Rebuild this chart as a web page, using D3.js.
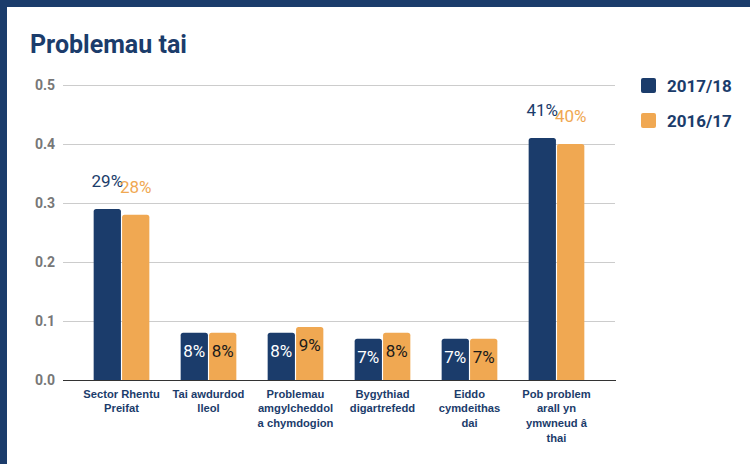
<!DOCTYPE html>
<html>
<head>
<meta charset="utf-8">
<script src="https://cdn.jsdelivr.net/npm/d3@7"></script>
<style>
  html, body { margin: 0; padding: 0; background: #fff; }
  svg { display: block; }
</style>
</head>
<body>
<div id="chart"></div>
<script>
// Housing problems by tenure/issue, two survey years
const categories = [
  ["Sector Rhentu", "Preifat"],
  ["Tai awdurdod", "lleol"],
  ["Problemau", "amgylcheddol", "a chymdogion"],
  ["Bygythiad", "digartrefedd"],
  ["Eiddo", "cymdeithas", "dai"],
  ["Pob problem", "arall yn", "ymwneud â", "thai"]
];
const seriesNames = ["2017/18", "2016/17"];
const values2017 = [0.29, 0.08, 0.08, 0.07, 0.07, 0.41];
const values2016 = [0.28, 0.08, 0.09, 0.08, 0.07, 0.40];
const yTicks = [0, 0.1, 0.2, 0.3, 0.4, 0.5];

const W = 750, H = 464;
const navy = "#1b3c6b", orange = "#f0a852";
const colors = [navy, orange];
const insideText = ["#ffffff", "#1a1a1a"];

const svg = d3.select("#chart").append("svg")
  .attr("width", W).attr("height", H);

svg.append("rect").attr("width", W).attr("height", H).attr("fill", "#fff");
// frame on the left and top edges
svg.append("rect").attr("x", 0).attr("y", 0).attr("width", W).attr("height", 7).attr("fill", navy);
svg.append("rect").attr("x", 0).attr("y", 0).attr("width", 7).attr("height", H).attr("fill", navy);

svg.append("text")
  .attr("x", 30).attr("y", 53)
  .attr("font-family", "Roboto, sans-serif")
  .attr("font-weight", 700)
  .attr("font-size", 25)
  .attr("fill", navy)
  .text("Problemau tai");

const plot = { left: 63, right: 615, top: 85, bottom: 380 };

const y = d3.scaleLinear().domain([0, 0.5]).range([plot.bottom, plot.top]);
const x0 = d3.scaleBand()
  .domain(d3.range(categories.length))
  .range([plot.left, plot.right])
  .paddingInner(0.36)
  .paddingOuter(0.3525);
const x1 = d3.scaleBand()
  .domain(seriesNames)
  .range([0, x0.bandwidth()])
  .paddingInner(0.04);

// gridlines + y labels via axis
const yAxis = d3.axisLeft(y)
  .tickValues(yTicks)
  .tickFormat(d3.format(".1f"))
  .tickSize(-(plot.right - plot.left))
  .tickPadding(8);

const gy = svg.append("g")
  .attr("transform", `translate(${plot.left},0)`)
  .call(yAxis);
gy.select(".domain").remove();
gy.selectAll(".tick line").attr("stroke", "#cccccc").attr("stroke-width", 1);
gy.selectAll(".tick text")
  .attr("font-family", "Roboto, sans-serif")
  .attr("font-weight", 700)
  .attr("font-size", 14)
  .attr("fill", "#777");

const data = categories.map((c, i) => ({
  i, vals: [values2017[i], values2016[i]]
}));

const groups = svg.append("g").selectAll("g")
  .data(data).join("g")
  .attr("transform", d => `translate(${x0(d.i)},0)`);

// bars with slightly rounded tops
function barPath(xp, w, top, bottom, r) {
  return `M${xp},${bottom}V${top + r}Q${xp},${top} ${xp + r},${top}` +
         `H${xp + w - r}Q${xp + w},${top} ${xp + w},${top + r}V${bottom}Z`;
}

groups.selectAll("path.bar")
  .data(d => d.vals.map((v, s) => ({ v, s })))
  .join("path")
  .attr("class", "bar")
  .attr("fill", d => colors[d.s])
  .attr("d", d => barPath(x1(seriesNames[d.s]), x1.bandwidth(), y(d.v), y(0), 2.5));

// value labels: above tall bars, inside short ones
const pct = d3.format(".0%");
groups.selectAll("text.val")
  .data(d => d.vals.map((v, s) => ({ v, s })))
  .join("text")
  .attr("class", "val")
  .attr("x", d => x1(seriesNames[d.s]) + x1.bandwidth() / 2)
  .attr("y", d => d.v >= 0.2 ? y(d.v) - 22 : y(d.v) + 24)
  .attr("text-anchor", "middle")
  .attr("font-family", "Roboto, sans-serif")
  .attr("font-size", 17)
  .attr("fill", d => d.v >= 0.2 ? colors[d.s] : insideText[d.s])
  .text(d => pct(d.v));

// baseline
svg.append("line")
  .attr("x1", plot.left).attr("x2", plot.right + 1)
  .attr("y1", y(0) + 0.5).attr("y2", y(0) + 0.5)
  .attr("stroke", "#333").attr("stroke-width", 1.2);

// category labels
const xl = svg.append("g");
categories.forEach((lines, i) => {
  const t = xl.append("text")
    .attr("x", x0(i) + x0.bandwidth() / 2)
    .attr("y", 397.5)
    .attr("text-anchor", "middle")
    .attr("font-family", "'Liberation Sans', Arial, sans-serif")
    .attr("font-weight", 700)
    .attr("font-size", 11.2)
    .attr("fill", navy);
  lines.forEach((ln, k) => {
    t.append("tspan")
      .attr("x", x0(i) + x0.bandwidth() / 2)
      .attr("dy", k === 0 ? 0 : 14.7)
      .text(ln);
  });
});

// legend
const legend = svg.append("g");
seriesNames.forEach((name, s) => {
  const ly = 78 + s * 35;
  legend.append("rect")
    .attr("x", 641).attr("y", ly)
    .attr("width", 15).attr("height", 15)
    .attr("rx", 2)
    .attr("fill", colors[s]);
  legend.append("text")
    .attr("x", 667).attr("y", ly + 14)
    .attr("font-family", "Roboto, sans-serif")
    .attr("font-weight", 700)
    .attr("font-size", 17)
    .attr("fill", navy)
    .text(name);
});
</script>
</body>
</html>
